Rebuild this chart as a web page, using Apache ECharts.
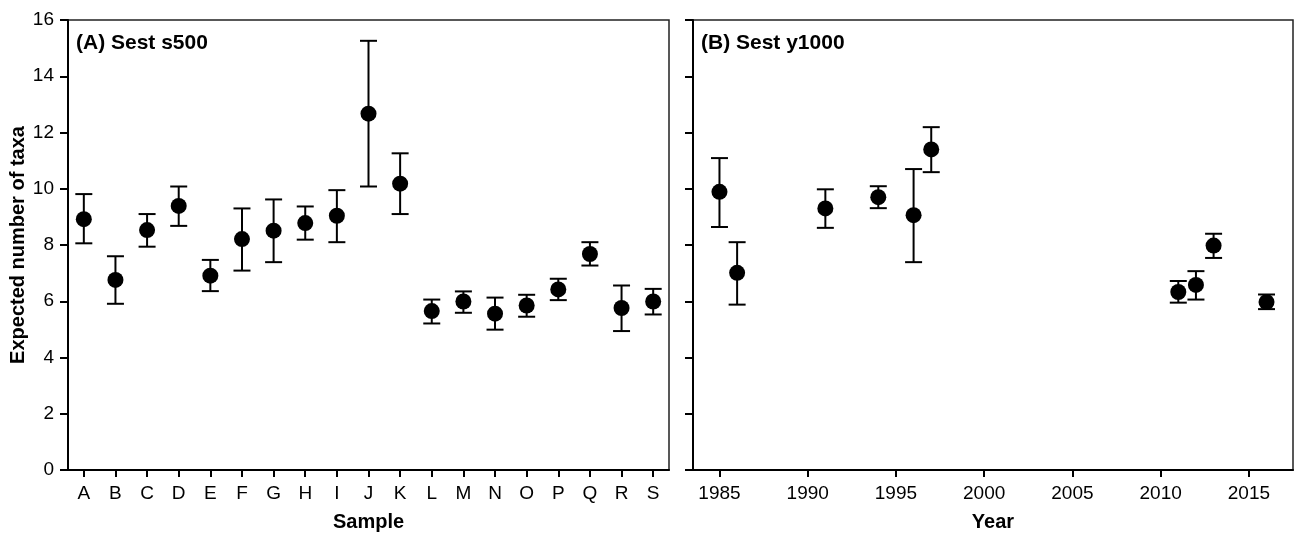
<!DOCTYPE html>
<html>
<head>
<meta charset="utf-8">
<script src="https://cdn.jsdelivr.net/npm/echarts@6/dist/echarts.min.js"></script>
<style>
  html, body { margin: 0; padding: 0; background: #fff; }
  #chart { width: 1294px; height: 537px; }
</style>
</head>
<body>
<div id="chart"></div>
<script>
// ---- Data ----
const samples = ['A','B','C','D','E','F','G','H','I','J','K','L','M','N','O','P','Q','R','S'];
const sampleMean = [8.92, 6.76, 8.53, 9.39, 6.91, 8.21, 8.51, 8.78, 9.04, 12.67, 10.18, 5.65, 5.99, 5.56, 5.85, 6.42, 7.68, 5.76, 5.99];
const sampleLow  = [8.06, 5.91, 7.94, 8.68, 6.36, 7.09, 7.39, 8.19, 8.10, 10.08, 9.10, 5.21, 5.59, 4.99, 5.45, 6.04, 7.27, 4.94, 5.53];
const sampleHigh = [9.81, 7.60, 9.10, 10.08, 7.47, 9.30, 9.62, 9.37, 9.95, 15.26, 11.26, 6.06, 6.35, 6.13, 6.23, 6.80, 8.10, 6.56, 6.44];

const years    = [1985, 1986, 1991, 1994, 1996, 1997, 2011, 2012, 2013, 2016];
const yearMean = [9.89, 7.01, 9.30, 9.70, 9.06, 11.40, 6.33, 6.58, 7.98, 5.97];
const yearLow  = [8.64, 5.88, 8.61, 9.31, 7.39, 10.59, 5.95, 6.06, 7.54, 5.72];
const yearHigh = [11.09, 8.10, 9.98, 10.09, 10.70, 12.19, 6.72, 7.07, 8.40, 6.24];

const yearTicks = [1985, 1990, 1995, 2000, 2005, 2010, 2015];
const yMin = 0, yMax = 16, yStep = 2;

const panelTitles = ['(A) Sest s500', '(B) Sest y1000'];
const xNames = ['Sample', 'Year'];
const yName = 'Expected number of taxa';

// ---- Chart ----
const FONT = 'Liberation Sans, Arial, sans-serif';
const chart = echarts.init(document.getElementById('chart'), null, { renderer: 'canvas' });

function errRender(params, api) {
  const x = api.value(0), lo = api.value(1), hi = api.value(2);
  const p1 = api.coord([x, hi]);
  const p2 = api.coord([x, lo]);
  const hw = 8.5;
  const st = { stroke: '#000', lineWidth: 2 };
  return {
    type: 'group',
    children: [
      { type: 'line', shape: { x1: p1[0], y1: p1[1], x2: p2[0], y2: p2[1] }, style: st },
      { type: 'line', shape: { x1: p1[0] - hw, y1: p1[1], x2: p1[0] + hw, y2: p1[1] }, style: st },
      { type: 'line', shape: { x1: p2[0] - hw, y1: p2[1], x2: p2[0] + hw, y2: p2[1] }, style: st }
    ]
  };
}

const axisLineStyle = { color: '#000', width: 2 };
const tickLabel = { color: '#000', fontSize: 19, fontFamily: FONT };
const nameStyle = { color: '#000', fontSize: 20, fontWeight: 'bold', fontFamily: FONT };

const yAxisBase = {
  type: 'value', min: yMin, max: yMax, interval: yStep,
  splitLine: { show: false },
  axisLine: { show: true, onZero: false, lineStyle: axisLineStyle },
  axisTick: { show: true, length: 8, lineStyle: { color: '#000', width: 2 } }
};

const option = {
  animation: false,
  backgroundColor: '#fff',
  title: [
    { text: panelTitles[0], left: 76, top: 33, padding: 0,
      textStyle: { color: '#000', fontSize: 21, fontWeight: 'bold', fontFamily: FONT } },
    { text: panelTitles[1], left: 701, top: 33, padding: 0,
      textStyle: { color: '#000', fontSize: 21, fontWeight: 'bold', fontFamily: FONT } }
  ],
  grid: [
    { left: 68, top: 20, width: 601, height: 452, show: true, borderColor: '#222', borderWidth: 1.5 },
    { left: 693, top: 20, width: 600, height: 452, show: true, borderColor: '#222', borderWidth: 1.5 }
  ],
  xAxis: [
    {
      gridIndex: 0, type: 'category', data: samples, boundaryGap: true,
      name: xNames[0], nameLocation: 'middle', nameGap: 42, nameTextStyle: nameStyle,
      axisLine: { show: true, onZero: false, lineStyle: axisLineStyle },
      axisTick: { show: true, alignWithLabel: true, length: 7, lineStyle: { color: '#000', width: 2 } },
      axisLabel: Object.assign({ margin: 14, interval: 0 }, tickLabel),
      splitLine: { show: false }
    },
    {
      gridIndex: 1, type: 'value', min: 1983.5, max: 2017.5,
      name: xNames[1], nameLocation: 'middle', nameGap: 42, nameTextStyle: nameStyle,
      axisLine: { show: true, onZero: false, lineStyle: axisLineStyle },
      axisTick: { show: true, length: 7, customValues: yearTicks, lineStyle: { color: '#000', width: 2 } },
      axisLabel: Object.assign({ margin: 14, customValues: yearTicks, formatter: v => String(v) }, tickLabel),
      splitLine: { show: false }
    }
  ],
  yAxis: [
    Object.assign({}, yAxisBase, {
      gridIndex: 0,
      name: yName, nameLocation: 'middle', nameGap: 36, nameTextStyle: nameStyle,
      axisLabel: Object.assign({ margin: 14 }, tickLabel)
    }),
    Object.assign({}, yAxisBase, {
      gridIndex: 1,
      axisLabel: { show: false }
    })
  ],
  series: [
    {
      type: 'custom', xAxisIndex: 0, yAxisIndex: 0,
      renderItem: errRender,
      encode: { x: 0, y: [1, 2] },
      data: samples.map((s, i) => [i, sampleLow[i], sampleHigh[i]]),
      z: 2
    },
    {
      type: 'scatter', xAxisIndex: 0, yAxisIndex: 0,
      symbol: 'circle', symbolSize: 16,
      itemStyle: { color: '#000', opacity: 1 },
      data: samples.map((s, i) => [i, sampleMean[i]]),
      z: 3
    },
    {
      type: 'custom', xAxisIndex: 1, yAxisIndex: 1,
      renderItem: errRender,
      encode: { x: 0, y: [1, 2] },
      data: years.map((y, i) => [y, yearLow[i], yearHigh[i]]),
      z: 2
    },
    {
      type: 'scatter', xAxisIndex: 1, yAxisIndex: 1,
      symbol: 'circle', symbolSize: 16,
      itemStyle: { color: '#000', opacity: 1 },
      data: years.map((y, i) => [y, yearMean[i]]),
      z: 3
    }
  ]
};

chart.setOption(option);
</script>
</body>
</html>
